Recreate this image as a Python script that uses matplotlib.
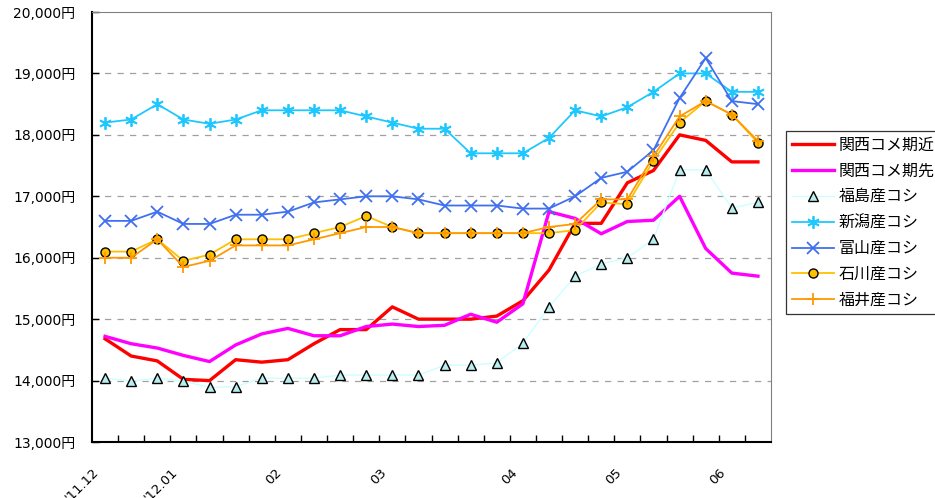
import numpy as np
import matplotlib
matplotlib.use("Agg")
import matplotlib.pyplot as plt

# fonts: digits in DejaVu, Japanese falls back to Noto CJK
plt.rcParams['font.family'] = ['DejaVu Sans', 'Noto Sans CJK JP']

# weekly points, Dec 2011 - Jun 2012 (26 categories)
x_labels = ["'11.12", "", "", "'12.01", "", "", "", "02", "", "", "", "03", "", "",
            "", "", "04", "", "", "", "05", "", "", "", "06", ""]

series_names = ["関西コメ期近", "関西コメ期先", "福島産コシ", "新潟産コシ",
                "富山産コシ", "石川産コシ", "福井産コシ"]

kansai_near = [14680, 14400, 14320, 14020, 14000, 14340, 14300, 14340, 14600, 14830,
               14830, 15200, 15000, 15000, 15000, 15050, 15300, 15800, 16560, 16560,
               17220, 17420, 18000, 17910, 17560, 17560]
kansai_far = [14720, 14600, 14530, 14410, 14310, 14580, 14760, 14850, 14730, 14730,
              14880, 14920, 14880, 14900, 15080, 14950, 15250, 16750, 16640, 16390,
              16590, 16610, 17000, 16150, 15750, 15700]
fukushima = [14040, 13990, 14040, 13990, 13890, 13900, 14040, 14040, 14040, 14090,
             14090, 14090, 14090, 14250, 14250, 14290, 14610, 15200, 15700, 15900,
             16000, 16300, 17430, 17430, 16810, 16900]
niigata = [18200, 18250, 18500, 18250, 18180, 18250, 18400, 18400, 18400, 18400,
           18300, 18200, 18100, 18100, 17700, 17700, 17700, 17950, 18400, 18300,
           18450, 18700, 19000, 19000, 18700, 18700]
toyama = [16600, 16600, 16750, 16550, 16550, 16700, 16700, 16750, 16900, 16950,
          17000, 17000, 16950, 16850, 16850, 16850, 16800, 16800, 17000, 17300,
          17400, 17750, 18600, 19250, 18550, 18500]
ishikawa = [16100, 16100, 16300, 15950, 16050, 16300, 16300, 16300, 16400, 16500,
            16680, 16500, 16400, 16400, 16400, 16400, 16400, 16400, 16450, 16900,
            16870, 17580, 18200, 18550, 18330, 17870]
fukui = [16000, 16000, 16300, 15850, 15950, 16200, 16200, 16200, 16300, 16400,
         16500, 16500, 16400, 16400, 16400, 16400, 16400, 16500, 16550, 16950,
         16950, 17650, 18300, 18550, 18330, 17900]

y_ticks = [13000, 14000, 15000, 16000, 17000, 18000, 19000, 20000]

x = np.arange(len(x_labels))

fig = plt.figure(figsize=(9.35, 4.98), dpi=100)
ax = fig.add_axes([0.0984, 0.1124, 0.7262, 0.8635])

# gridlines behind everything
for v in y_ticks[1:-1]:
    ax.axhline(v, color='#a0a0a0', linewidth=0.9, linestyle=(0, (5, 5)), zorder=0)

ax.plot(x, kansai_near, color='#ff0000', linewidth=2.4, label=series_names[0], zorder=3)
ax.plot(x, kansai_far, color='#ff00ff', linewidth=2.4, label=series_names[1], zorder=3)
ax.plot(x, fukushima, color='#ccffff', linewidth=1.0, marker='^', markersize=7,
        markerfacecolor='#b8eeee', markeredgecolor='black', markeredgewidth=1.0,
        label=series_names[2], zorder=3)
ax.plot(x, niigata, color='#1ec8ff', linewidth=1.3, marker=(6, 2, 0), markersize=9,
        markeredgewidth=1.3, label=series_names[3], zorder=3)
ax.plot(x, toyama, color='#4070f0', linewidth=1.3, marker='x', markersize=8,
        markeredgewidth=1.3, label=series_names[4], zorder=3)
ax.plot(x, ishikawa, color='#ffc000', linewidth=1.3, marker='o', markersize=6.5,
        markerfacecolor='#ffc000', markeredgecolor='black', markeredgewidth=1.0,
        label=series_names[5], zorder=3)
ax.plot(x, fukui, color='#ff9900', linewidth=1.3, marker='+', markersize=9,
        markeredgewidth=1.3, label=series_names[6], zorder=3)

ax.set_xlim(-0.5, len(x) - 0.5)
ax.set_ylim(13000, 20000)

ax.set_yticks(y_ticks)
ax.set_yticklabels([f"{v:,}円" for v in y_ticks], fontsize=10)
ax.tick_params(axis='y', direction='in', length=5, width=1, pad=12)

# category boundaries as small inward ticks, labels written by hand
ax.set_xticks([])
ax.set_xticks(np.arange(0.5, len(x) - 0.5, 1), minor=True)
ax.tick_params(axis='x', which='minor', direction='in', length=5, width=1)
for i, lab in enumerate(x_labels):
    if lab:
        ax.annotate(lab, xy=(i, 0), xycoords=('data', 'axes fraction'),
                    xytext=(-9, -17), textcoords='offset points', fontsize=9.5,
                    rotation=45, ha='right', va='top', rotation_mode='anchor')

ax.spines['left'].set_linewidth(1.5)
ax.spines['bottom'].set_linewidth(1.5)
ax.spines['top'].set_color('#808080')
ax.spines['right'].set_color('#808080')

leg = fig.legend(loc='upper left', bbox_to_anchor=(786 / 935, 1 - 131 / 498),
                 borderaxespad=0, fontsize=11.5, frameon=True, fancybox=False,
                 edgecolor='black', handlelength=2.6, handletextpad=0.3,
                 labelspacing=0.68, borderpad=0.4, numpoints=1)
leg.get_frame().set_linewidth(0.9)

fig.savefig("out.png", dpi=100)
